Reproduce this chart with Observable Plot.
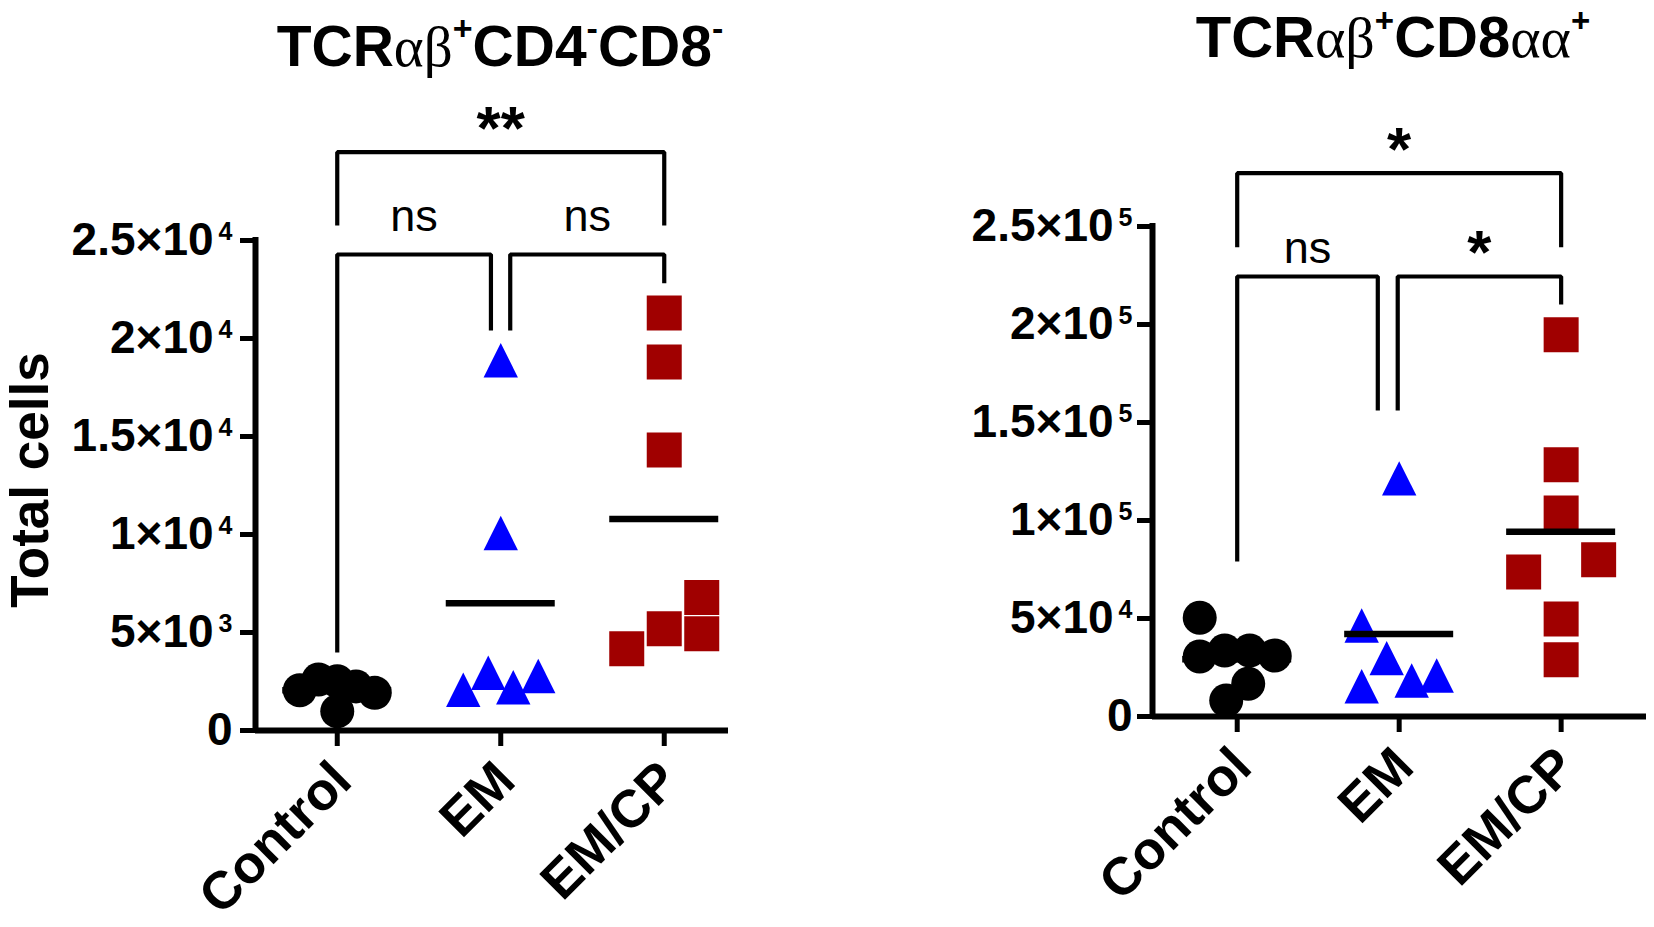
<!DOCTYPE html>
<html>
<head>
<meta charset="utf-8">
<script src="https://cdn.jsdelivr.net/npm/d3@7"></script>
<script src="https://cdn.jsdelivr.net/npm/@observablehq/plot@0.6"></script>
<style>
  html, body { margin: 0; padding: 0; background: #fff; }
  #wrap { position: relative; width: 1654px; height: 927px; overflow: hidden; background: #fff; }
  #left, #right { position: absolute; top: 0; width: 830px; height: 927px; }
  #left { left: 0; }
  #right { left: 824px; }
  #overlay { position: absolute; left: 0; top: 0; pointer-events: none; }
</style>
</head>
<body>
<div id="wrap">
  <div id="left"></div>
  <div id="right"></div>
  <svg id="overlay" width="1654" height="927" xmlns="http://www.w3.org/2000/svg">
    <g font-family="Liberation Sans, Arial, sans-serif" font-weight="bold" fill="#000">
      <text x="500" y="66" text-anchor="middle" font-size="57">TCR<tspan font-family="Liberation Serif, Times New Roman, serif" font-weight="normal">αβ</tspan><tspan font-size="34" dy="-26">+</tspan><tspan dy="26">CD4</tspan><tspan font-size="34" dy="-26">-</tspan><tspan dy="26">CD8</tspan><tspan font-size="34" dy="-26">-</tspan></text>
      <text x="1393" y="57" text-anchor="middle" font-size="58">TCR<tspan font-family="Liberation Serif, Times New Roman, serif" font-weight="normal">αβ</tspan><tspan font-size="33" dy="-25">+</tspan><tspan dy="25">CD8</tspan><tspan font-family="Liberation Serif, Times New Roman, serif" font-weight="normal">αα</tspan><tspan font-size="33" dy="-25">+</tspan></text>
      <text transform="translate(48,480) rotate(-90)" text-anchor="middle" font-size="53">Total cells</text>
    </g>
  </svg>
</div>
<script>
// ---------- data ----------
const categories = ["Control", "EM", "EM/CP"];

// Panel 1: TCRαβ+CD4-CD8-
const p1Control = [2510, 2600, 2250, 2050, 1920, 980];
const p1EM      = [18890, 10080, 2210, 2950, 2780, 2080];
const p1EMCP    = [21300, 18800, 14310, 5190, 4170, 4940, 6790];
const p1TickValues = [0, 5000, 10000, 15000, 20000, 25000];
const p1TickLabels = ["0", "5×10^3", "1×10^4", "1.5×10^4", "2×10^4", "2.5×10^4"];
const p1Brackets = [
  {a: "Control", aOff: 0,     aEnd: 3980,  b: "EM",    bOff: -0.06, bEnd: 20408, level: 24286, label: "ns", labelY: 25510},
  {a: "EM",      aOff: 0.058, aEnd: 20408, b: "EM/CP", bOff: 0,     bEnd: 22821, level: 24286, label: "ns", labelY: 25510},
  {a: "Control", aOff: 0,     aEnd: 25765, b: "EM/CP", bOff: 0,     bEnd: 25765, level: 29505, label: "**", labelY: 29505}
];

// Panel 2: TCRαβ+CD8αα+
const p2Control = [50400, 33700, 33700, 31100, 30600, 16700, 8200];
const p2EM      = [121500, 46400, 18400, 29800, 20900, 15400];
const p2EMCP    = [194800, 128500, 103800, 80000, 73700, 49700, 29000];
const p2TickValues = [0, 50000, 100000, 150000, 200000, 250000];
const p2TickLabels = ["0", "5×10^4", "1×10^5", "1.5×10^5", "2×10^5", "2.5×10^5"];
const p2Brackets = [
  {a: "Control", aOff: 0,      aEnd: 79082,  b: "EM",    bOff: -0.132, bEnd: 156122, level: 224490, label: "ns", labelY: 231276},
  {a: "EM",      aOff: -0.009, aEnd: 156122, b: "EM/CP", bOff: 0,      bEnd: 210204, level: 224490, label: "*",  labelY: 224490},
  {a: "Control", aOff: 0,      aEnd: 239439, b: "EM/CP", bOff: 0,      bEnd: 239439, level: 277194, label: "*",  labelY: 277194}
];

// ---------- styles ----------
const groupStyle = {
  "Control": {shape: "circle",   color: "#000000"},
  "EM":      {shape: "triangle", color: "#0000ff"},
  "EM/CP":   {shape: "square",   color: "#a00000"}
};
const symbolParams = {
  circle:   {r: 17,   s: 22, H: 18, size: 35, spreadMin: 3},
  triangle: {r: 17.2, s: 25, H: 30, size: 34, spreadMin: 3},
  square:   {r: 17.5, s: 37, H: 34, size: 35, spreadMin: 2}
};
const SPREAD_W = 75;
const MEAN_HALF_PX = 54.5;

const triSym = {draw(ctx, size) { const r = Math.sqrt(size / Math.PI); ctx.moveTo(0, -r); ctx.lineTo(r, r); ctx.lineTo(-r, r); ctx.closePath(); }};
const sqSym  = {draw(ctx, size) { const r = Math.sqrt(size / Math.PI); ctx.moveTo(-r, -r); ctx.lineTo(r, -r); ctx.lineTo(r, r); ctx.lineTo(-r, r); ctx.closePath(); }};
const symbolOf = {circle: "circle", triangle: triSym, square: sqSym};

// column-scatter layout (beeswarm-like, in pixels)
function swarm(values, pxPerUnit, p) {
  const pts = values.map((v, i) => ({v, i, py: v * pxPerUnit, dx: 0}));
  const placed = [];
  for (const q of pts) {
    let chosen = null;
    for (let k = 0; k < 12 && chosen === null; k++) {
      const cands = k === 0 ? [0] : [-k * p.s, k * p.s];
      const free = cands.filter(c => placed.every(o => !(Math.abs(o.dx - c) < p.s - 1e-6 && Math.abs(o.py - q.py) < p.H)));
      if (free.length === 1) chosen = free[0];
      else if (free.length === 2) {
        const near = c => {
          let m = Infinity;
          for (const o of placed) if (Math.abs(o.dx - c) < 1e-6) {
            const d = Math.abs(o.py - q.py);
            if (d < 1.2 * p.size) m = Math.min(m, d);
          }
          return m;
        };
        chosen = near(free[1]) < near(free[0]) ? free[1] : free[0];
      }
    }
    q.dx = chosen === null ? 0 : chosen;
    placed.push(q);
  }
  const sorted = pts.slice().sort((a, b) => a.py - b.py);
  const comps = [];
  let cur = [sorted[0]];
  for (let j = 1; j < sorted.length; j++) {
    if (sorted[j].py - sorted[j - 1].py < p.H) cur.push(sorted[j]);
    else { comps.push(cur); cur = [sorted[j]]; }
  }
  comps.push(cur);
  for (const c of comps) {
    if (c.length < 2) continue;
    const lo = d3.min(c, d => d.dx), hi = d3.max(c, d => d.dx);
    if (hi === lo) { c.forEach(d => d.dx -= lo); continue; }
    if (c.length >= p.spreadMin) c.forEach(d => d.dx = -SPREAD_W / 2 + (d.dx - lo) / (hi - lo) * SPREAD_W);
    else { const m = (lo + hi) / 2; c.forEach(d => d.dx -= m); }
  }
  for (const c of comps) {
    if (c.length !== 1) continue;
    const q = c[0];
    const others = pts.filter(o => o !== q);
    if (!others.length) continue;
    const nearest = d3.min(others, o => Math.abs(o.py - q.py));
    if (nearest >= p.size) continue;
    for (const c2 of [-SPREAD_W / 2, SPREAD_W / 2]) {
      if (others.every(o => Math.hypot(o.dx - c2, o.py - q.py) >= p.size)) { q.dx = c2; break; }
    }
  }
  return pts;
}

function supScripts(svg) {
  const ns = "http://www.w3.org/2000/svg";
  svg.querySelectorAll("text").forEach(t => {
    const s = t.textContent;
    if (!s.includes("^")) return;
    const [base, exp] = s.split("^");
    t.textContent = "";
    const a = document.createElementNS(ns, "tspan"); a.textContent = base; t.appendChild(a);
    const b = document.createElementNS(ns, "tspan"); b.textContent = exp;
    b.setAttribute("dx", "5"); b.setAttribute("dy", "-15"); b.setAttribute("font-size", "25");
    t.appendChild(b);
  });
}

function panel(cfg) {
  const {groups, tickValues, tickLabels, brackets, yMax, width, height, marginLeft, marginRight, marginTop, marginBottom, xDomain, tickPadding} = cfg;
  const pxPerUnit = (height - marginTop - marginBottom) / yMax;
  const pxPerCat = (width - marginLeft - marginRight) / (xDomain[1] - xDomain[0]);
  const ci = c => categories.indexOf(c);
  const points = [];
  const means = [];
  groups.forEach(g => {
    const st = groupStyle[g.cat];
    const p = symbolParams[st.shape];
    swarm(g.values, pxPerUnit, p).forEach(d => points.push({cat: g.cat, v: d.v, x: ci(g.cat) + d.dx / pxPerCat}));
    means.push({cat: g.cat, i: ci(g.cat), mean: d3.mean(g.values)});
  });
  const hw = MEAN_HALF_PX / pxPerCat;
  const bracketPts = [];
  brackets.forEach((b, k) => {
    const xa = ci(b.a) + b.aOff, xb = ci(b.b) + b.bOff;
    bracketPts.push({id: k, x: xa, y: b.aEnd}, {id: k, x: xa, y: b.level}, {id: k, x: xb, y: b.level}, {id: k, x: xb, y: b.bEnd});
  });
  const labelMap = new Map(tickValues.map((v, i) => [v, tickLabels[i]]));
  const dotMarks = categories.map(c => {
    const st = groupStyle[c];
    return Plot.dot(points.filter(d => d.cat === c), {x: "x", y: "v", r: symbolParams[st.shape].r, symbol: symbolOf[st.shape], fill: st.color, stroke: "none"});
  });
  const svg = Plot.plot({
    width, height, marginLeft, marginRight, marginTop, marginBottom,
    x: {domain: xDomain, axis: null},
    y: {domain: [0, yMax], axis: null},
    style: {fontFamily: "Liberation Sans, Arial, sans-serif", background: "transparent", overflow: "visible"},
    marks: [
      Plot.axisY({ticks: tickValues, tickFormat: d => labelMap.get(d), tickSize: 15, tickPadding, strokeWidth: 5, fontSize: 46, fontWeight: "bold", fill: "#000", label: null}),
      Plot.axisX({ticks: [0, 1, 2], tickFormat: () => "", tickSize: 16, strokeWidth: 5, label: null}),
      Plot.ruleX([xDomain[0]], {y1: 0, y2: yMax, strokeWidth: 6, strokeLinecap: "square"}),
      Plot.ruleY([0], {x1: xDomain[0], x2: xDomain[1], strokeWidth: 6}),
      Plot.line(bracketPts, {x: "x", y: "y", z: "id", stroke: "#000", strokeWidth: 4.2, strokeLinejoin: "miter", strokeLinecap: "butt"}),
      Plot.text(brackets, {filter: d => d.label === "ns", x: d => (ci(d.a) + d.aOff + ci(d.b) + d.bOff) / 2, y: "labelY", text: "label", lineAnchor: "bottom", fontSize: 45, fontWeight: "normal", fill: "#000"}),
      Plot.text(brackets, {filter: d => d.label !== "ns", x: d => (ci(d.a) + d.aOff + ci(d.b) + d.bOff) / 2, y: "labelY", text: "label", lineAnchor: "bottom", dy: -3, fontSize: 62, fontWeight: "bold", fill: "#000"}),
      ...dotMarks,
      Plot.ruleY(means, {y: "mean", x1: d => d.i - hw, x2: d => d.i + hw, stroke: "#000", strokeWidth: 6.5}),
      Plot.text(categories.map((c, i) => ({c, i})), {x: "i", text: "c", frameAnchor: "bottom", rotate: -45, textAnchor: "end", lineAnchor: "bottom", dx: 17, dy: 53, fontSize: 53, fontWeight: "bold", fill: "#000"})
    ]
  });
  supScripts(svg);
  return svg;
}

document.getElementById("left").appendChild(panel({
  groups: [{cat: "Control", values: p1Control}, {cat: "EM", values: p1EM}, {cat: "EM/CP", values: p1EMCP}],
  tickValues: p1TickValues, tickLabels: p1TickLabels, brackets: p1Brackets, yMax: 25000,
  width: 830, height: 927, marginLeft: 255, marginRight: 102, marginTop: 240, marginBottom: 197,
  xDomain: [-0.5, 2.393], tickPadding: 8
}));
document.getElementById("right").appendChild(panel({
  groups: [{cat: "Control", values: p2Control}, {cat: "EM", values: p2EM}, {cat: "EM/CP", values: p2EMCP}],
  tickValues: p2TickValues, tickLabels: p2TickLabels, brackets: p2Brackets, yMax: 250000,
  width: 830, height: 927, marginLeft: 328, marginRight: 8, marginTop: 226, marginBottom: 211,
  xDomain: [-0.523, 2.527], tickPadding: 5
}));
</script>
</body>
</html>
